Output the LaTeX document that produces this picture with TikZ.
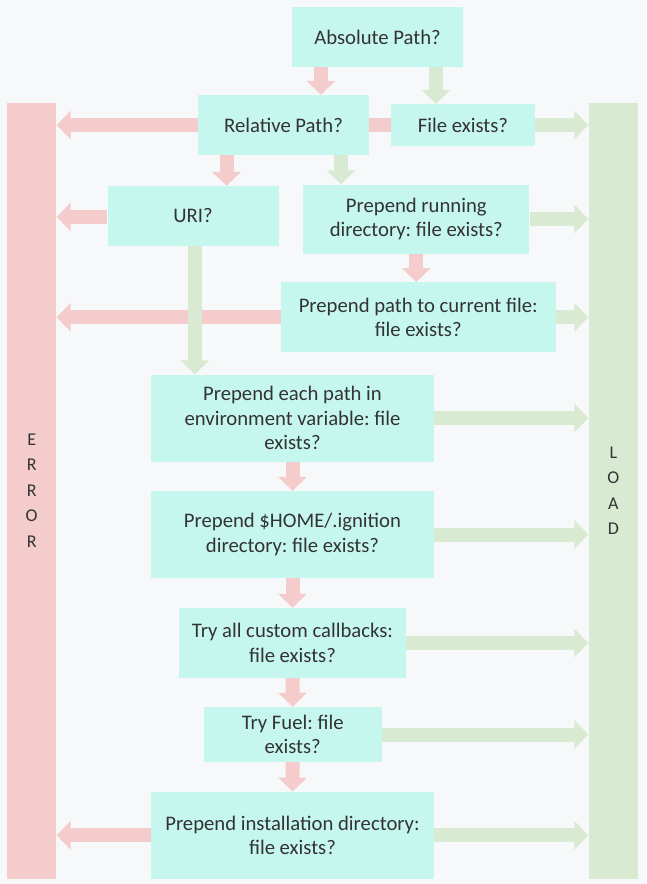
\documentclass[tikz,border=0pt]{standalone}
\usepackage{fontspec}
\setmainfont{Carlito}
\usetikzlibrary{arrows.meta}
\definecolor{bgc}{HTML}{F7F8FA}
\definecolor{boxc}{HTML}{C6F7EE}
\definecolor{redc}{HTML}{F4CCCC}
\definecolor{greenc}{HTML}{D9EAD3}
\definecolor{txtc}{HTML}{333333}
\frenchspacing
\begin{document}
\begin{tikzpicture}[x=1pt,y=-1pt,
  box/.style={fill=boxc,draw=none,inner sep=0pt,align=center,text=txtc,
    font=\fontsize{20.7}{24.5}\selectfont},
  bar/.style={draw=none,inner sep=0pt,align=center,text=txtc,
    font=\fontsize{18}{25.5}\selectfont,minimum width=49.5pt,minimum height=776pt},
  redarr/.style={draw=redc,line width=14pt,-{Triangle[length=14pt,width=28pt,fill=redc]}},
  greenarr/.style={draw=greenc,line width=14pt,-{Triangle[length=14pt,width=28pt,fill=greenc]}},
  redband/.style={draw=redc,line width=14pt}]
\fill[bgc] (0,0) rectangle (646,884);
\useasboundingbox (0,0) rectangle (646,884);
% bars
\node[bar,fill=redc] (err) at (31.7,490.7) {E\\R\\R\\O\\R};
\node[bar,fill=greenc] (load) at (613.3,490.7) {L\\O\\A\\D};
% boxes
\node[box,minimum width=171pt,minimum height=60pt] (abs) at (377.5,37) {Absolute Path?};
\node[box,minimum width=171pt,minimum height=60pt] (rel) at (283.5,125) {Relative Path?};
\node[box,minimum width=144pt,minimum height=42pt] (fe) at (463,125) {File exists?};
\node[box,minimum width=171pt,minimum height=60pt] (uri) at (193,216) {URI?};
\node[box,minimum width=226pt,minimum height=69pt] (run) at (416.3,219) {Prepend running\\directory: file exists?};
\node[box,minimum width=275pt,minimum height=70pt] (cur) at (418.2,317.3) {Prepend path to current file:\\file exists?};
\node[box,minimum width=283pt,minimum height=87pt] (each) at (292.5,418) {Prepend each path in\\environment variable: file\\exists?};
\node[box,minimum width=283pt,minimum height=87pt] (home) at (292.5,534.5) {Prepend \$HOME/.ignition\\directory: file exists?};
\node[box,minimum width=227pt,minimum height=70pt] (cb) at (292.5,643) {Try all custom callbacks:\\file exists?};
\node[box,minimum width=178pt,minimum height=55pt] (fuel) at (292.7,734.5) {Try Fuel: file\\exists?};
\node[box,minimum width=283pt,minimum height=87pt] (inst) at (292.5,835.3) {Prepend installation directory:\\file exists?};
% arrows
\draw[redarr] ([xshift=-56.5pt]abs.south) -- ([xshift=-56.5pt]abs.south |- rel.north);
\draw[greenarr] ([xshift=58.5pt]abs.south) -- ([xshift=58.5pt]abs.south |- fe.north);
\draw[redarr] (rel.west) -- (rel.west -| err.east);
\draw[redband] (rel.east) -- (fe.west);
\draw[greenarr] (fe.east) -- (fe.east -| load.west);
\draw[redarr] ([xshift=-56.9pt]rel.south) -- ([xshift=-56.9pt]rel.south |- uri.north);
\draw[greenarr] ([xshift=57.5pt]rel.south) -- ([xshift=57.5pt]rel.south |- run.north);
\draw[redarr] ([yshift=-1pt]uri.west) -- ([yshift=-1pt]uri.west -| err.east);
\draw[greenarr] (run.east) -- (run.east -| load.west);
\draw[redarr] (run.south) -- (run.south |- cur.north);
\draw[redarr] (cur.west) -- (cur.west -| err.east);
\draw[greenarr] (cur.east) -- (cur.east -| load.west);
\draw[greenarr] ([xshift=2pt]uri.south) -- ([xshift=2pt]uri.south |- each.north);
\draw[greenarr] (each.east) -- (each.east -| load.west);
\draw[redarr] (each.south) -- (home.north);
\draw[greenarr] (home.east) -- (home.east -| load.west);
\draw[redarr] (home.south) -- (cb.north);
\draw[greenarr] (cb.east) -- (cb.east -| load.west);
\draw[redarr] (cb.south) -- (fuel.north);
\draw[greenarr] (fuel.east) -- (fuel.east -| load.west);
\draw[redarr] (fuel.south) -- (inst.north);
\draw[redarr] (inst.west) -- (inst.west -| err.east);
\draw[greenarr] (inst.east) -- (inst.east -| load.west);
\end{tikzpicture}
\end{document}
